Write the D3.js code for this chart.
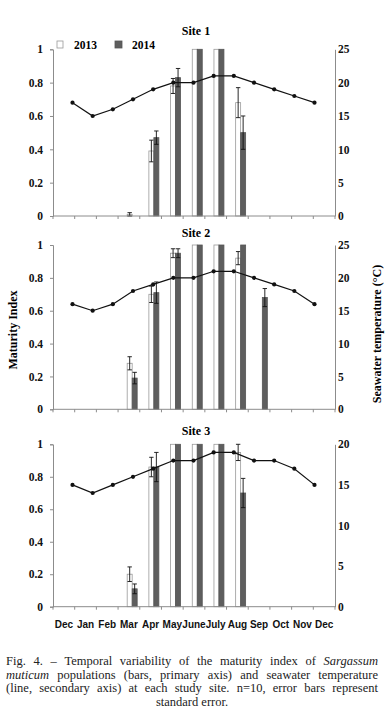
<!DOCTYPE html>
<html><head><meta charset="utf-8">
<script src="https://cdn.jsdelivr.net/npm/d3@7"></script>
<style>body{margin:0;background:#fff}</style></head>
<body>
<svg id="c" width="385" height="723"></svg>
<script>
const months = ["Dec","Jan","Feb","Mar","Apr","May","June","July","Aug","Sep","Oct","Nov","Dec"];
const seriesNames = ["2013","2014"];
const leftTicks = [0,0.2,0.4,0.6,0.8,1];

const site1_2013 = [0,0,0,0.01,0.39,0.78,1,1,0.68,0,0,0,0];
const site1_2013_err = [0,0,0,0.01,0.065,0.045,0,0,0.09,0,0,0,0];
const site1_2014 = [0,0,0,0,0.47,0.83,1,1,0.50,0,0,0,0];
const site1_2014_err = [0,0,0,0,0.04,0.055,0,0,0.10,0,0,0,0];
const site1_temp = [17,15,16,17.5,19,20,20,21,21,20,19,18,17];

const site2_2013 = [0,0,0,0.28,0.70,0.95,1,1,0.92,0,0,0,0];
const site2_2013_err = [0,0,0,0.04,0.05,0.027,0,0,0.04,0,0,0,0];
const site2_2014 = [0,0,0,0.19,0.71,0.95,1,1,1,0.68,0,0,0];
const site2_2014_err = [0,0,0,0.035,0.065,0.027,0,0,0,0.055,0,0,0];
const site2_temp = [16,15,16,18,19,20,20,21,21,20,19,18,16];

const site3_2013 = [0,0,0,0.20,0.86,1,1,1,0.95,0,0,0,0];
const site3_2013_err = [0,0,0,0.045,0.06,0,0,0,0.05,0,0,0,0];
const site3_2014 = [0,0,0,0.11,0.86,1,1,1,0.70,0,0,0,0];
const site3_2014_err = [0,0,0,0.03,0.09,0,0,0,0.09,0,0,0,0];
const site3_temp = [15,14,15,16,17,18,18,19,19,18,18,17,15];

const svg = d3.select("#c");
const L = 53, R = 335;
const serif = "'Liberation Serif', 'Times New Roman', serif";
const sans = "'Liberation Sans', Arial, sans-serif";
const axisGray = "#8c8c8c";

const panels = [
  {title:"Site 1", top:49.3, bottom:216, v13:site1_2013, e13:site1_2013_err, v14:site1_2014, e14:site1_2014_err, temp:site1_temp, tmax:25, titleY:34.5},
  {title:"Site 2", top:245, bottom:409.3, v13:site2_2013, e13:site2_2013_err, v14:site2_2014, e14:site2_2014_err, temp:site2_temp, tmax:25, titleY:237},
  {title:"Site 3", top:444.3, bottom:606.7, v13:site3_2013, e13:site3_2013_err, v14:site3_2014, e14:site3_2014_err, temp:site3_temp, tmax:20, titleY:435},
];

const x = d3.scaleBand().domain(d3.range(months.length)).range([L, R]).padding(0);
const bw = x.bandwidth();
const xp = d3.scalePoint().domain(d3.range(months.length)).range([72.5, 314.5]);

panels.forEach((p, pi) => {
  const g = svg.append("g");
  const y = d3.scaleLinear().domain([0,1]).range([p.bottom, p.top]);
  const yr = d3.scaleLinear().domain([0,p.tmax]).range([p.bottom, p.top]);

  // title
  g.append("text").attr("x", 196).attr("y", p.titleY).attr("text-anchor","middle")
    .style("font-family", serif).style("font-weight","bold").style("font-size","12px").text(p.title);

  // bars
  const series = [
    {v:p.v13, e:p.e13, off:0.42, fill:"#ffffff", stroke:"#9a9a9a"},
    {v:p.v14, e:p.e14, off:0.65, fill:"#5e5e5e", stroke:"#555"}
  ];
  series.forEach(s => {
    const data = s.v.map((v,i)=>({v, e:s.e[i], i})).filter(d=>d.v>0);
    g.selectAll(null).data(data).enter().append("rect")
      .attr("x", d=>x(d.i)+s.off*bw).attr("width", 0.23*bw)
      .attr("y", d=>y(d.v)).attr("height", d=>y(0)-y(d.v))
      .attr("fill", s.fill).attr("stroke", s.stroke).attr("stroke-width", 0.8);
    const ed = data.filter(d=>d.e>0);
    const cx = d=>x(d.i)+(s.off+0.115)*bw;
    g.selectAll(null).data(ed).enter().append("line")
      .attr("x1",cx).attr("x2",cx).attr("y1",d=>y(d.v+d.e)).attr("y2",d=>y(Math.max(0,d.v-d.e)))
      .attr("stroke","#111").attr("stroke-width",0.9);
    [1,-1].forEach(sg=>{
      g.selectAll(null).data(ed).enter().append("line")
        .attr("x1",d=>cx(d)-2.2).attr("x2",d=>cx(d)+2.2)
        .attr("y1",d=>y(Math.max(0,d.v+sg*d.e))).attr("y2",d=>y(Math.max(0,d.v+sg*d.e)))
        .attr("stroke","#111").attr("stroke-width",0.9);
    });
  });

  // left axis
  const la = g.append("g").attr("transform",`translate(${L},0)`)
    .call(d3.axisLeft(y).tickValues(leftTicks).tickSize(3).tickPadding(7)
      .tickFormat(d=> d===0?"0":d===1?"1":String(d)));
  la.select(".domain").attr("stroke",axisGray);
  la.selectAll(".tick line").attr("stroke",axisGray);
  la.selectAll("text").style("font-family",serif).style("font-weight","bold").style("font-size","11.5px").attr("fill","#111");

  // right axis
  const ra = g.append("g").attr("transform",`translate(${R},0)`)
    .call(d3.axisRight(yr).ticks(5).tickSize(0).tickPadding(3));
  ra.select(".domain").attr("stroke",axisGray);
  ra.selectAll("text").style("font-family",serif).style("font-weight","bold").style("font-size","11.5px").attr("fill","#111");

  // x axis
  g.append("line").attr("x1",L).attr("x2",R).attr("y1",p.bottom).attr("y2",p.bottom).attr("stroke",axisGray);
  const bounds = d3.range(months.length+1).map(i=>L+i*x.step());
  g.selectAll(null).data(bounds).enter().append("line")
    .attr("x1",d=>d).attr("x2",d=>d).attr("y1",p.bottom).attr("y2",p.bottom+3).attr("stroke",axisGray);

  // temperature line
  const line = d3.line().x((d,i)=>xp(i)).y(d=>yr(d));
  g.append("path").datum(p.temp).attr("d",line).attr("fill","none").attr("stroke","#111").attr("stroke-width",1.2);
  g.selectAll(null).data(p.temp).enter().append("circle")
    .attr("cx",(d,i)=>xp(i)).attr("cy",d=>yr(d)).attr("r",2.1).attr("fill","#111");

  if (pi === 2) {
    g.selectAll(null).data(months).enter().append("text")
      .attr("x",(d,i)=>x(i)+bw/2).attr("y",p.bottom+21).attr("text-anchor","middle")
      .style("font-family",sans).style("font-weight","bold").style("font-size","10px").attr("fill","#111")
      .text(d=>d);
  }
  if (pi === 0) {
    // legend
    const lg = g.append("g");
    lg.append("rect").attr("x",57).attr("y",41).attr("width",6).attr("height",7).attr("fill","#fff").attr("stroke","#9a9a9a").attr("stroke-width",0.8);
    lg.append("text").attr("x",74).attr("y",48.5).style("font-family",serif).style("font-weight","bold").style("font-size","11.5px").text(seriesNames[0]);
    lg.append("rect").attr("x",115).attr("y",41).attr("width",7).attr("height",7).attr("fill","#5e5e5e").attr("stroke","#555").attr("stroke-width",0.8);
    lg.append("text").attr("x",132).attr("y",48.5).style("font-family",serif).style("font-weight","bold").style("font-size","11.5px").text(seriesNames[1]);
  }
});

// axis titles
svg.append("text").attr("transform","translate(17,330) rotate(-90)").attr("text-anchor","middle")
  .style("font-family",serif).style("font-weight","bold").style("font-size","12px").text("Maturity Index");
svg.append("text").attr("transform","translate(381,334) rotate(-90)").attr("text-anchor","middle")
  .style("font-family",serif).style("font-weight","bold").style("font-size","12px").text("Seawater temperature (°C)");

// caption
const capLines = [
  [{t:"Fig."},{t:"4."},{t:"–"},{t:"Temporal"},{t:"variability"},{t:"of"},{t:"the"},{t:"maturity"},{t:"index"},{t:"of"},{t:"Sargassum",it:true}],
  [{t:"muticum",it:true},{t:"populations"},{t:"(bars,"},{t:"primary"},{t:"axis)"},{t:"and"},{t:"seawater"},{t:"temperature"}],
  [{t:"(line,"},{t:"secondary"},{t:"axis)"},{t:"at"},{t:"each"},{t:"study"},{t:"site."},{t:"n=10,"},{t:"error"},{t:"bars"},{t:"represent"}],
];
const capX0 = 6, capX1 = 378, capY = [665, 678.5, 692, 705.5];
const cap = svg.append("g").style("font-family",serif).style("font-size","12.5px").attr("fill","#222");
capLines.forEach((words, li) => {
  const els = words.map(w => cap.append("text").attr("y",capY[li]).style("font-style", w.it?"italic":"normal").text(w.t));
  const widths = els.map(e => e.node().getComputedTextLength());
  const gap = (capX1 - capX0 - d3.sum(widths)) / (words.length - 1);
  let cx = capX0;
  els.forEach((e,i)=>{ e.attr("x",cx); cx += widths[i] + gap; });
});
cap.append("text").attr("x",192).attr("y",capY[3]).attr("text-anchor","middle").text("standard error.");
</script>
</body></html>
